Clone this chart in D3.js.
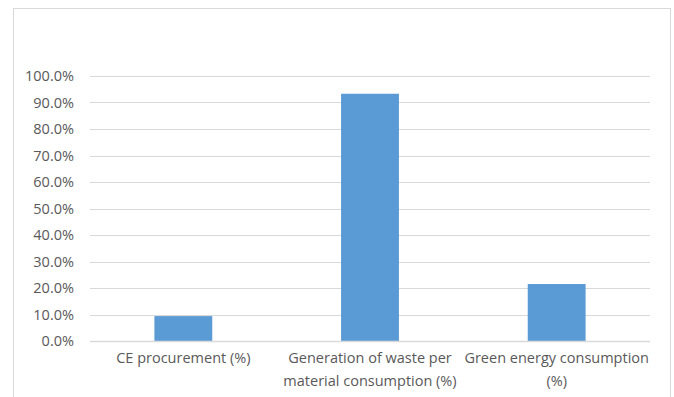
<!DOCTYPE html>
<html>
<head>
<meta charset="utf-8">
<script src="https://cdn.jsdelivr.net/npm/d3@7"></script>
<style>
  html, body { margin: 0; padding: 0; background: #fff; }
  svg { display: block; }
  text { font-family: "Open Sans", "Liberation Sans", sans-serif; fill: #595959; }
</style>
</head>
<body>
<svg id="chart" width="674" height="397"></svg>
<script>
// Indicator categories (each label split into its display lines)
const categories = [
  ["CE procurement (%)"],
  ["Generation of waste per", "material consumption (%)"],
  ["Green energy consumption", "(%)"]
];
// Share per indicator, as fractions
const values = [0.094, 0.933, 0.215];
// Value axis ticks
const yTicks = [0, 0.1, 0.2, 0.3, 0.4, 0.5, 0.6, 0.7, 0.8, 0.9, 1.0];

const svg = d3.select("#chart");
const W = 674, H = 397;
const margin = { top: 76, right: 24, bottom: 56, left: 90 };
const plotW = W - margin.left - margin.right;
const plotH = H - margin.top - margin.bottom;

// Chart area frame
svg.append("rect")
  .attr("x", 13.5).attr("y", 8.5)
  .attr("width", 657).attr("height", 400)
  .attr("fill", "#fff").attr("stroke", "#d9d9d9").attr("stroke-width", 1);

const g = svg.append("g").attr("transform", `translate(${margin.left},${margin.top})`);

const x = d3.scaleBand()
  .domain(d3.range(categories.length))
  .range([0, plotW])
  .paddingInner(0.69)
  .paddingOuter(0.345);

const y = d3.scaleLinear().domain([0, 1]).range([plotH, 0]);

// Horizontal gridlines
g.append("g")
  .selectAll("line")
  .data(yTicks)
  .join("line")
  .attr("x1", 0).attr("x2", plotW)
  .attr("y1", d => Math.round(y(d)) + 0.5)
  .attr("y2", d => Math.round(y(d)) + 0.5)
  .attr("stroke", "#d9d9d9").attr("stroke-width", 1);

// Value axis labels
const yAxis = d3.axisLeft(y).tickValues(yTicks).tickFormat(d3.format(".1%")).tickSize(0).tickPadding(16);
const ya = g.append("g").call(yAxis);
ya.select(".domain").remove();
ya.selectAll("text")
  .style("font-size", "14.5px")
  .style("font-family", "'Open Sans', sans-serif")
  .attr("fill", "#595959");

// Bars
g.append("g")
  .selectAll("rect")
  .data(values)
  .join("rect")
  .attr("x", (d, i) => x(i))
  .attr("width", x.bandwidth())
  .attr("y", d => y(d))
  .attr("height", d => y(0) - y(d))
  .attr("fill", "#5b9bd5");

// Baseline
g.append("line")
  .attr("x1", 0).attr("x2", plotW)
  .attr("y1", plotH + 0.5).attr("y2", plotH + 0.5)
  .attr("stroke", "#d9d9d9").attr("stroke-width", 1.5);

// Category labels
const cat = g.append("g")
  .selectAll("text")
  .data(categories)
  .join("text")
  .attr("text-anchor", "middle")
  .attr("transform", (d, i) => `translate(${x(i) + x.bandwidth() / 2},${plotH + 22})`)
  .style("font-size", "14.5px");
cat.selectAll("tspan")
  .data(d => d)
  .join("tspan")
  .attr("x", 0)
  .attr("dy", (d, i) => i === 0 ? 0 : 23)
  .text(d => d);
</script>
</body>
</html>
